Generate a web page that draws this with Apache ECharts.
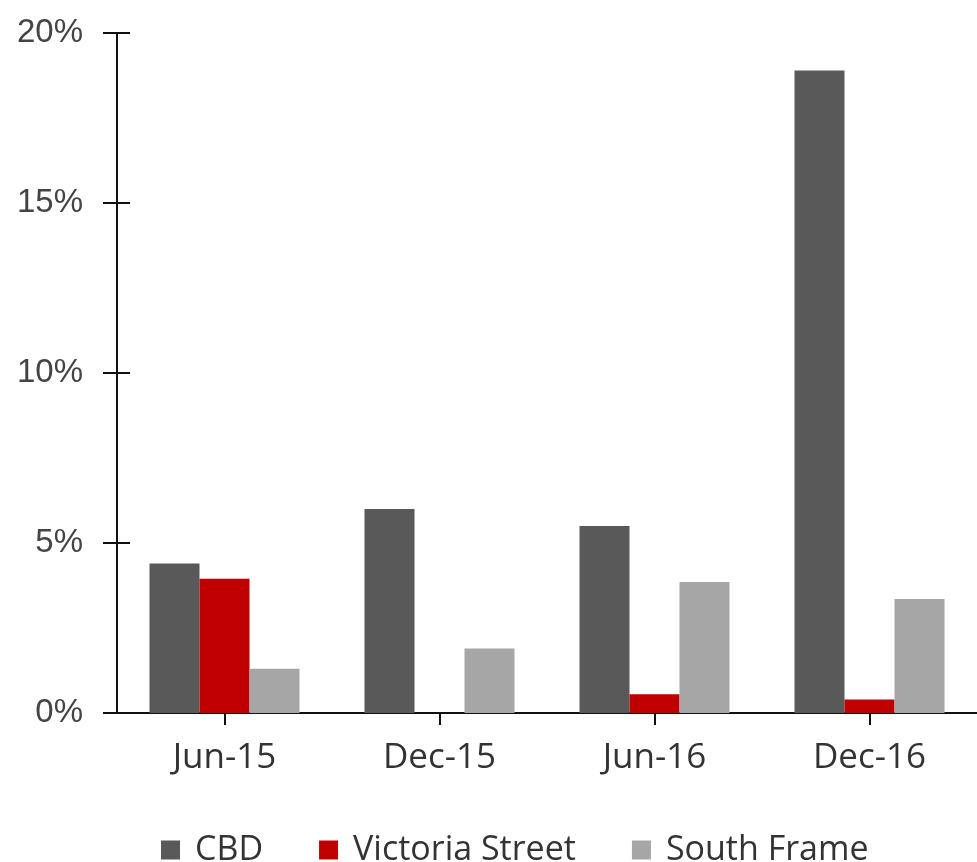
<!DOCTYPE html>
<html><head><meta charset="utf-8">
<script src="https://cdn.jsdelivr.net/npm/echarts@6/dist/echarts.min.js"></script>
<style>html,body{margin:0;padding:0;background:#fff}#c{width:977px;height:862px}</style>
</head><body><div id="c"></div>
<script>
const categories = ['Jun-15', 'Dec-15', 'Jun-16', 'Dec-16'];
const cbd = [4.4, 6.0, 5.5, 18.9];
const victoriaStreet = [3.95, 0, 0.55, 0.4];
const southFrame = [1.3, 1.9, 3.85, 3.35];
const yTicks = [0, 5, 10, 15, 20];

const chart = echarts.init(document.getElementById('c'));
const yBase = {
  type: 'value', min: yTicks[0], max: yTicks[yTicks.length - 1], interval: 5,
  splitLine: { show: false }
};
chart.setOption({
  animation: false,
  grid: { left: 117, width: 866, top: 33, bottom: 149, containLabel: false },
  legend: {
    top: 828, left: 156, itemWidth: 19, itemHeight: 19, itemGap: 56,
    icon: 'rect',
    textStyle: { fontFamily: 'Open Sans', fontSize: 34, color: '#333', padding: [0, 0, 0, 10] },
    data: ['CBD', 'Victoria Street', 'South Frame']
  },
  xAxis: {
    type: 'category', data: categories,
    axisLine: { show: true, lineStyle: { color: '#111', width: 2 } },
    axisTick: { show: true, alignWithLabel: true, length: 12, lineStyle: { color: '#111', width: 2 } },
    axisLabel: { fontFamily: 'Open Sans', fontSize: 35, color: '#333', margin: 28 }
  },
  yAxis: [
    Object.assign({}, yBase, {
      axisLine: { show: true, lineStyle: { color: '#111', width: 2 } },
      axisTick: { show: true, length: 14, lineStyle: { color: '#111', width: 2 } },
      axisLabel: { fontFamily: 'Liberation Sans', fontSize: 33, color: '#444', margin: 34,
        formatter: v => v + '%' }
    }),
    Object.assign({}, yBase, {
      position: 'left',
      axisLine: { show: false },
      axisTick: { show: true, inside: true, length: 13, lineStyle: { color: '#111', width: 2 } },
      axisLabel: { show: false }
    })
  ],
  series: [
    { name: 'CBD', type: 'bar', data: cbd, itemStyle: { color: '#595959' }, barWidth: 50, barGap: '0%' },
    { name: 'Victoria Street', type: 'bar', data: victoriaStreet, itemStyle: { color: '#c00000' }, barWidth: 50, barGap: '0%' },
    { name: 'South Frame', type: 'bar', data: southFrame, itemStyle: { color: '#a6a6a6' }, barWidth: 50, barGap: '0%' }
  ]
});
</script></body></html>
